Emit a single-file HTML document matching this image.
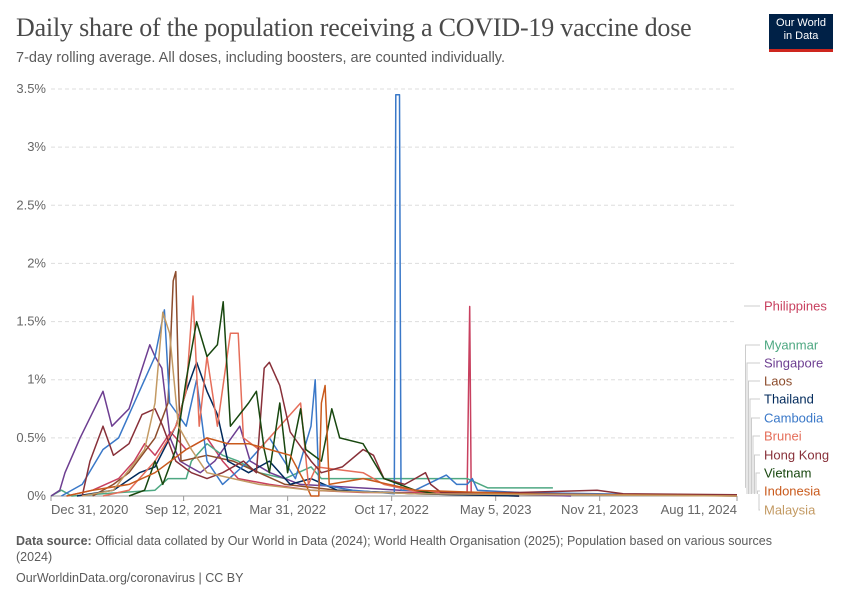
<!DOCTYPE html>
<html><head><meta charset="utf-8">
<style>
body{margin:0;background:#fff;width:850px;height:600px;overflow:hidden;font-family:"Liberation Sans",sans-serif}
.t{position:absolute;left:16px;top:13px;font-family:"Liberation Serif",serif;font-size:26px;color:#4a4a4a;letter-spacing:-0.2px}
.s{position:absolute;left:16px;top:50px;font-size:14.5px;color:#5b5b5b}
.logo{position:absolute;left:769px;top:14px;width:64px;height:38px;background:#002147;border-bottom:3px solid #ce261e;color:#fff;font-size:11px;text-align:center;line-height:13px;padding-top:3px;box-sizing:border-box}
.f{position:absolute;left:16px;font-size:12.5px;color:#5b5b5b;width:780px;line-height:16px}
</style></head><body>
<div class="t">Daily share of the population receiving a COVID-19 vaccine dose</div>
<div class="s">7-day rolling average. All doses, including boosters, are counted individually.</div>
<div class="logo">Our World<br>in Data</div>
<svg id="c" width="850" height="600" style="position:absolute;left:0;top:0"></svg>
<div class="f" style="top:533px"><b>Data source:</b> Official data collated by Our World in Data (2024); World Health Organisation (2025); Population based on various sources (2024)</div>
<div class="f" style="top:570px">OurWorldinData.org/coronavirus | CC BY</div>
<script>
const yTicks=[0,0.5,1,1.5,2,2.5,3,3.5];
const yTickLabels=["0%","0.5%","1%","1.5%","2%","2.5%","3%","3.5%"];
const xTickDays=[0,255,455,655,855,1055,1319];
const xTickLabels=["Dec 31, 2020","Sep 12, 2021","Mar 31, 2022","Oct 17, 2022","May 5, 2023","Nov 21, 2023","Aug 11, 2024"];
const countries=["Philippines","Myanmar","Singapore","Laos","Thailand","Cambodia","Brunei","Hong Kong","Vietnam","Indonesia","Malaysia"];
const philippines=[[30,0],[80,0.05],[130,0.15],[160,0.3],[180,0.45],[200,0.35],[230,0.55],[260,0.4],[300,0.5],[330,0.3],[360,0.15],[420,0.1],[500,0.05],[600,0.03],[700,0.03],[800,0.02],[805,1.63],[808,0.02],[900,0]];
const myanmar=[[0,0],[20,0.05],[40,0],[100,0.02],[200,0.05],[225,0.15],[260,0.15],[270,0.3],[300,0.45],[330,0.35],[360,0.3],[400,0.2],[450,0.15],[500,0.25],[520,0.15],[800,0.15],[840,0.07],[965,0.07]];
const singapore=[[0,0],[17,0.05],[27,0.2],[56,0.5],[100,0.9],[117,0.6],[150,0.75],[190,1.3],[200,1.2],[213,1.1],[229,0.5],[248,0.3],[267,0.25],[287,0.2],[315,0.3],[363,0.6],[383,0.3],[421,0.2],[479,0.1],[671,0.05],[863,0.02],[1000,0]];
const laos=[[80,0],[120,0.1],[150,0.2],[200,0.5],[225,0.8],[235,1.85],[240,1.93],[245,1.0],[250,0.3],[300,0.35],[350,0.3],[400,0.2],[450,0.1],[550,0.05],[700,0.02],[900,0]];
const thailand=[[50,0],[120,0.05],[170,0.2],[200,0.25],[240,0.6],[260,0.9],[280,1.15],[300,0.9],[320,0.7],[340,0.3],[380,0.2],[420,0.3],[460,0.1],[500,0.15],[550,0.05],[700,0.02],[900,0]];
const cambodia=[[20,0],[60,0.1],[100,0.4],[130,0.5],[160,0.8],[200,1.2],[218,1.6],[228,0.8],[260,0.6],[280,1.0],[300,0.3],[330,0.1],[380,0.3],[420,0.5],[470,0.15],[500,0.6],[508,1.0],[515,0.1],[580,0.05],[660,0.02],[663,3.45],[670,3.45],[673,0.05],[700,0.05],[760,0.18],[780,0.1],[800,0.1],[810,0.15],[820,0.05],[900,0.03],[1319,0]];
const brunei=[[100,0],[150,0.05],[200,0.3],[240,0.6],[260,0.9],[273,1.72],[285,0.6],[300,1.2],[320,0.6],[345,1.4],[360,1.4],[370,0.5],[400,0.4],[480,0.8],[495,0.1],[510,0.25],[600,0.2],[640,0.1],[700,0.04],[900,0.02]];
const hongKong=[[60,0],[75,0.3],[100,0.6],[120,0.35],[150,0.45],[175,0.7],[200,0.75],[215,0.6],[240,0.3],[270,0.2],[300,0.15],[330,0.2],[370,0.3],[395,0.2],[410,1.1],[420,1.15],[440,0.95],[460,0.55],[500,0.3],[520,0.2],[560,0.25],[600,0.4],[620,0.35],[640,0.15],[680,0.1],[700,0.15],[720,0.2],[730,0.1],[750,0.03],[900,0.03],[1050,0.05],[1100,0.02],[1319,0.01]];
const vietnam=[[150,0],[180,0.05],[200,0.3],[215,0.1],[240,0.4],[260,1.0],[280,1.5],[300,1.2],[320,1.3],[331,1.67],[345,0.6],[380,0.8],[395,0.9],[410,0.4],[420,0.2],[440,0.8],[455,0.2],[480,0.75],[490,0.4],[520,0.3],[540,0.75],[555,0.5],[600,0.45],[640,0.15],[700,0.05],[740,0.02]];
const indonesia=[[30,0],[80,0.05],[150,0.1],[200,0.2],[260,0.4],[300,0.5],[340,0.45],[380,0.45],[420,0.4],[460,0.35],[490,0.1],[500,0],[515,0],[520,0.8],[527,0.95],[535,0.1],[600,0.15],[700,0.05],[900,0.02],[1319,0]];
const malaysia=[[60,0],[120,0.05],[180,0.4],[200,0.8],[215,1.58],[228,1.4],[245,0.6],[270,0.4],[300,0.2],[350,0.15],[400,0.1],[500,0.05],[700,0.02],[1319,0]];
const seriesData=[philippines,myanmar,singapore,laos,thailand,cambodia,brunei,hongKong,vietnam,indonesia,malaysia];
const colors=["#c8405f","#4ea882","#6d3e91","#8c4c2c","#00295b","#3a78c8","#e56e5a","#883039","#18470f","#c95a1c","#c39a63"];
const legendY=[306,345,363,381,399,418,436,455,473,491,510];
const NS="http://www.w3.org/2000/svg",svg=document.getElementById('c');
const X0=51,X1=737,Y0=496,Y1=89;
const xs=d=>X0+d*(X1-X0)/1319, ys=v=>Y0-v*(Y0-Y1)/3.5;
function mk(t,a){const e=document.createElementNS(NS,t);for(const k in a)e.setAttribute(k,a[k]);svg.appendChild(e);return e;}
yTicks.forEach((v,i)=>{
 if(v>0){const g=mk('line',{x1:X0,x2:X1,y1:ys(v),y2:ys(v),stroke:'#ddd','stroke-dasharray':'4,3'});
 
 }
 const t=mk('text',{x:46,y:ys(v)+4,'text-anchor':'end','font-size':13,fill:'#666'});t.textContent=yTickLabels[i];
 
 
});
const ax=mk('line',{x1:X0,x2:X1,y1:Y0,y2:Y0,stroke:'#999'});


xTickDays.forEach((d,i)=>{
 mk('line',{x1:xs(d),x2:xs(d),y1:Y0,y2:Y0+5,stroke:'#999'});
 const anchor=i==0?'start':(i==xTickDays.length-1?'end':'middle');
 const t=mk('text',{x:xs(d),y:Y0+18,'text-anchor':anchor,'font-size':13,fill:'#666'});t.textContent=xTickLabels[i];
 
 
});
seriesData.forEach((s,i)=>{
 const p=mk('polyline',{points:s.map(q=>xs(q[0]).toFixed(1)+','+ys(q[1]).toFixed(1)).join(' '),fill:'none',stroke:colors[i],'stroke-width':1.5,'stroke-linejoin':'round'});
 
 
 const last=s[s.length-1];
 const lx=744+(i==0?0:i*1.5);
 mk('path',{d:`M${lx},${i==0?legendY[0]:Math.min(ys(last[1]),494)} V${legendY[i]} H760`,fill:'none',stroke:'#ccc'});
 const t=mk('text',{x:764,y:legendY[i]+4.5,'font-size':13,fill:colors[i]});t.textContent=countries[i];
 
 
});
</script>
</body></html>
